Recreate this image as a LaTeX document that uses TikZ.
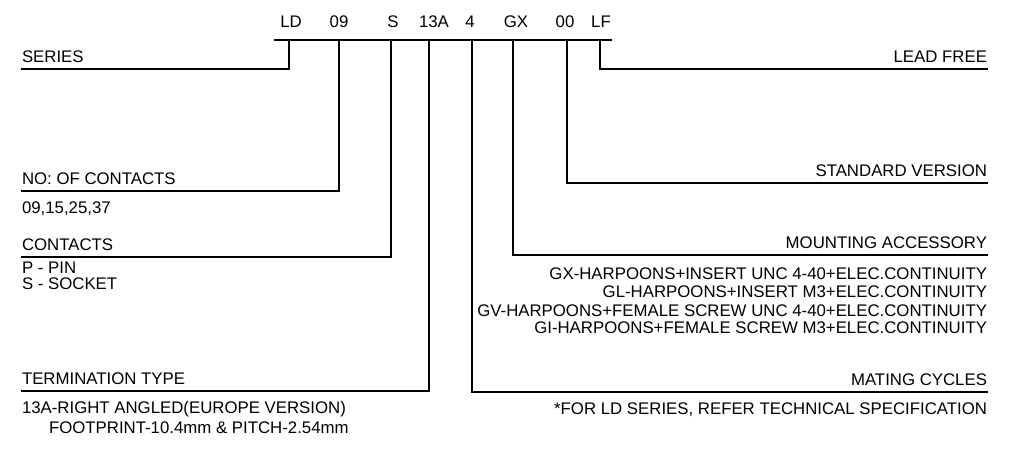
\documentclass[tikz,border=0pt]{standalone}
\usepackage{fontspec}
\setmainfont{Liberation Sans}
\usetikzlibrary{positioning, calc}

\begin{document}
\begin{tikzpicture}[
		% Estilos comunes del codigo de pedido
		txt/.style = {font=\fontsize{16.8}{18}\selectfont, inner sep=0pt, outer sep=0pt},
		ltxt/.style = {txt, anchor=base west},
		rtxt/.style = {txt, anchor=base east},
		code/.style = {txt, anchor=base},
		lead/.style = {line width=1.6pt},
		x=1pt, y=-1pt
		]
		\useasboundingbox (0,0) rectangle (1017,450);
		
		% --- CODIGO DE PEDIDO ---
		\node [code] (cLD)  at (291,27) {LD};
		\node [code] (c09)  at (339,27) {09};
		\node [code] (cS)   at (393,27) {S};
		\node [code] (c13A) at (434,27) {13A};
		\node [code] (c4)   at (470,27) {4};
		\node [code] (cGX)  at (516,27) {GX};
		\node [code] (c00)  at (565,27) {00};
		\node [code] (cLF)  at (601,27) {LF};
		
		% Barra superior y puntos de derivacion
		\coordinate (barL) at (274,40);
		\coordinate (barR) at (612,40);
		\draw [lead] (barL) -- (barR);
		
		\coordinate (tLD)  at (289,40);
		\coordinate (t09)  at (339,40);
		\coordinate (tS)   at (391,40);
		\coordinate (t13A) at (429,40);
		\coordinate (t4)   at (472,40);
		\coordinate (tGX)  at (513,40);
		\coordinate (t00)  at (567,40);
		\coordinate (tLF)  at (600,40);
		
		% --- LADO IZQUIERDO ---
		\coordinate (eSeries) at (21,69);
		\coordinate (eNo)     at (21,191);
		\coordinate (eCont)   at (21,257);
		\coordinate (eTerm)   at (21,391);
		
		\node [ltxt] (series) at ($(eSeries)+(1,-7)$) {SERIES};
		\node [ltxt] (nocont) at ($(eNo)+(1,-7)$) {NO: OF CONTACTS};
		\node [ltxt] (nolist) at ($(eNo)+(1,22)$) {09,15,25,37};
		\node [ltxt] (cont)   at ($(eCont)+(1,-7)$) {CONTACTS};
		\node [ltxt] (pin)    at ($(eCont)+(1,16)$) {P - PIN};
		\node [ltxt] (sock)   at ($(eCont)+(1,32)$) {S - SOCKET};
		\node [ltxt] (term)   at ($(eTerm)+(1,-7)$) {TERMINATION TYPE};
		\node [ltxt] (ra)     at ($(eTerm)+(1,22)$) {13A-RIGHT ANGLED(EUROPE VERSION)};
		\node [ltxt] (fp)     at ($(eTerm)+(28,42)$) {FOOTPRINT-10.4mm \& PITCH-2.54mm};
		
		% --- LADO DERECHO ---
		\coordinate (eLF)  at (988,69);
		\coordinate (eStd) at (988,183);
		\coordinate (eMnt) at (988,255);
		\coordinate (eMat) at (988,392);
		
		\node [rtxt] (lfree) at ($(eLF)+(-1,-7)$) {LEAD FREE};
		\node [rtxt] (std)   at ($(eStd)+(-1,-7)$) {STANDARD VERSION};
		\node [rtxt] (mnt)   at ($(eMnt)+(-1,-7)$) {MOUNTING ACCESSORY};
		\node [rtxt] (gx)    at ($(eMnt)+(-1,24)$) {GX-HARPOONS+INSERT UNC 4-40+ELEC.CONTINUITY};
		\node [rtxt] (gl)    at ($(eMnt)+(-1,42)$) {GL-HARPOONS+INSERT M3+ELEC.CONTINUITY};
		\node [rtxt] (gv)    at ($(eMnt)+(-1,61)$) {GV-HARPOONS+FEMALE SCREW UNC 4-40+ELEC.CONTINUITY};
		\node [rtxt] (gi)    at ($(eMnt)+(-1,78)$) {GI-HARPOONS+FEMALE SCREW M3+ELEC.CONTINUITY};
		\node [rtxt] (mat)   at ($(eMat)+(-1,-7)$) {MATING CYCLES};
		\node [rtxt] (spec)  at ($(eMat)+(-1,22)$) {*FOR LD SERIES, REFER TECHNICAL SPECIFICATION};
		
		% --- LINEAS DE REFERENCIA ---
		\draw [lead] (tLD) |- (eSeries);
		\draw [lead] (t09) |- (eNo);
		\draw [lead] (tS) |- (eCont);
		\draw [lead] (t13A) |- (eTerm);
		\draw [lead] (t4) |- (eMat);
		\draw [lead] (tGX) |- (eMnt);
		\draw [lead] (t00) |- (eStd);
		\draw [lead] (tLF) |- (eLF);
		
	\end{tikzpicture}
\end{document}
